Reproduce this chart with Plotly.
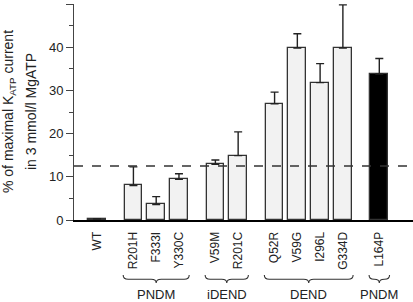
import plotly.graph_objects as go

categories = ["WT", "R201H", "F333I", "Y330C", "V59M", "R201C",
              "Q52R", "V59G", "I296L", "G334D", "L164P"]
values = [0.2, 8.0, 3.6, 9.4, 12.9, 14.9, 26.9, 39.8, 31.8, 39.8, 33.8]
errors = [0.1, 4.3, 1.8, 1.3, 1.0, 5.5, 2.7, 3.3, 4.4, 10.0, 3.6]
group_of_bar = [0, 1, 1, 1, 2, 2, 3, 3, 3, 3, 4]
group_labels = ["", "PNDM", "iDEND", "DEND", "PNDM"]
black_bars = ["L164P"]
reference_level = 12.5
y_ticks = [0, 10, 20, 30, 40, 50]

FONT = "Arial, Liberation Sans, Helvetica, sans-serif"
GROUP_GAP = 0.6
BAR_W = 0.78

positions = [i + GROUP_GAP * g for i, g in enumerate(group_of_bar)]
fills = ["#000000" if c in black_bars else "#f2f2f2" for c in categories]

fig = go.Figure()
fig.add_trace(go.Bar(
    x=positions, y=values, width=BAR_W,
    marker=dict(color=fills, line=dict(color="#333333", width=1.3)),
    error_y=dict(type="data", array=errors, arrayminus=[0] * len(errors),
                 symmetric=False, color="#222222", thickness=1.4, width=4),
    showlegend=False,
))

shapes = [dict(type="line", xref="paper", x0=0, x1=1, yref="y",
               y0=reference_level, y1=reference_level,
               line=dict(color="#333333", width=1.3, dash="dash"), layer="above")]
annotations = []

ytop, ymid, ybot = -0.2546, -0.2745, -0.292
for g, label in enumerate(group_labels):
    if not label:
        continue
    ps = [p for p, gg in zip(positions, group_of_bar) if gg == g]
    x0 = min(ps) - 0.45
    x1 = max(ps) + 0.45
    xm = (x0 + x1) / 2
    d = 0.22
    path = (f"M {x0},{ytop} Q {x0},{ymid} {x0 + d},{ymid} "
            f"L {xm - d},{ymid} Q {xm},{ymid} {xm},{ybot} "
            f"Q {xm},{ymid} {xm + d},{ymid} "
            f"L {x1 - d},{ymid} Q {x1},{ymid} {x1},{ytop}")
    shapes.append(dict(type="path", xref="x", yref="paper", path=path,
                       line=dict(color="#333333", width=1.1)))
    annotations.append(dict(x=xm, xref="x", y=-0.347, yref="paper",
                            text=label, showarrow=False,
                            xanchor="center", yanchor="middle",
                            font=dict(family=FONT, size=13, color="#222222")))

annotations.append(dict(x=0, xref="paper", xshift=-65, y=0.5, yref="paper",
                        text="% of maximal K<sub>ATP</sub> current",
                        textangle=-90, showarrow=False,
                        xanchor="center", yanchor="middle",
                        font=dict(family=FONT, size=14, color="#222222")))
annotations.append(dict(x=0, xref="paper", xshift=-43, y=0.5, yref="paper",
                        text="in 3 mmol/l MgATP",
                        textangle=-90, showarrow=False,
                        xanchor="center", yanchor="middle",
                        font=dict(family=FONT, size=14, color="#222222")))

fig.update_layout(
    width=413, height=302,
    margin=dict(l=74, r=0, t=4, b=82, autoexpand=False),
    plot_bgcolor="white", paper_bgcolor="white",
    font=dict(family=FONT, color="#222222"),
    shapes=shapes, annotations=annotations,
    xaxis=dict(range=[-1.01, 13.88], tickvals=positions, ticktext=categories,
               tickangle=-90, ticks="", showgrid=False, zeroline=False,
               showline=True, linecolor="#000000", linewidth=2,
               tickfont=dict(family=FONT, size=12, color="#222222"),
               ticklabelstandoff=5, automargin=False),
    yaxis=dict(range=[0, 50], tickvals=y_ticks, ticks="outside", ticklen=7,
               tickcolor="#444444", tickwidth=1, showgrid=False, zeroline=False,
               showline=True, linecolor="#444444", linewidth=1,
               tickfont=dict(family=FONT, size=13, color="#222222"),
               automargin=False,
               minor=dict(dtick=5, ticks="outside", ticklen=4,
                          tickcolor="#444444", showgrid=False)),
    bargap=0,
)

fig.write_html("out.html", config={"displayModeBar": False},
               post_script="document.body.style.margin='0';document.body.style.overflow='hidden';")
